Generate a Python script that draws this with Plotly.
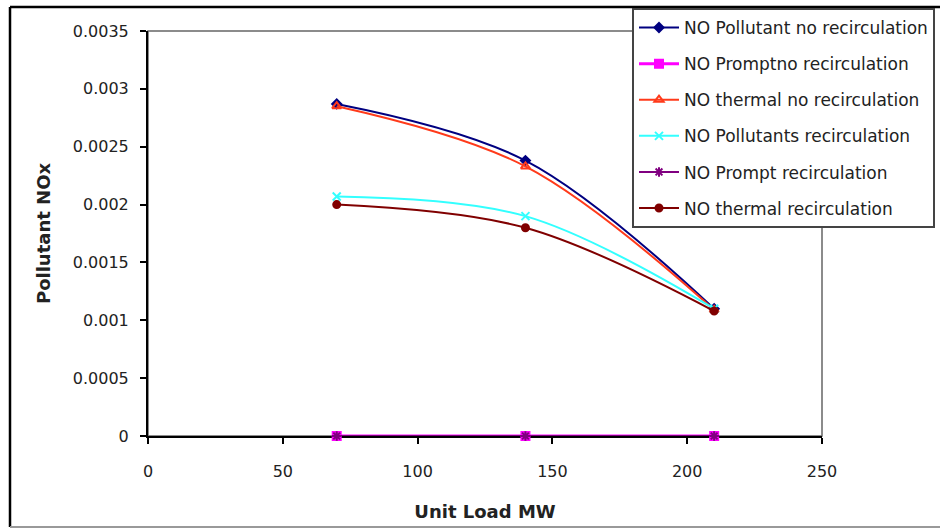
import plotly.graph_objects as go

unit_load = [70, 140, 210]

series_names = [
    "NO Pollutant no recirculation",
    "NO Promptno recirculation",
    "NO thermal no recirculation",
    "NO Pollutants recirculation",
    "NO Prompt recirculation",
    "NO thermal recirculation",
]
no_pollutant_norecirc = [0.00287, 0.00238, 0.00110]
no_prompt_norecirc = [0.0, 0.0, 0.0]
no_thermal_norecirc = [0.00285, 0.00233, 0.00109]
no_pollutants_recirc = [0.00207, 0.00190, 0.00110]
no_prompt_recirc = [0.0, 0.0, 0.0]
no_thermal_recirc = [0.00200, 0.00180, 0.00108]

y_tick_vals = [0, 0.0005, 0.001, 0.0015, 0.002, 0.0025, 0.003, 0.0035]
y_tick_text = ["0", "0.0005", "0.001", "0.0015", "0.002", "0.0025", "0.003", "0.0035"]
x_tick_vals = [0, 50, 100, 150, 200, 250]

values = [no_pollutant_norecirc, no_prompt_norecirc, no_thermal_norecirc,
          no_pollutants_recirc, no_prompt_recirc, no_thermal_recirc]
colors = ["#000080", "#FF00FF", "#FF3A1A", "#33FFFF", "#800080", "#800000"]
symbols = ["diamond", "square", "triangle-up-open", "x-thin-open", "asterisk-open", "circle"]
msizes = [7, 8, 8, 8, 8, 7]
lwidths = [2, 3, 2, 2, 2, 2]

fig = go.Figure()
for i, (name, vals) in enumerate(zip(series_names, values)):
    fig.add_trace(go.Scatter(
        x=unit_load, y=vals, name=name, mode="lines+markers",
        line=dict(color=colors[i], width=lwidths[i], shape="spline", smoothing=1.0),
        marker=dict(symbol=symbols[i], size=msizes[i], color=colors[i],
                    line=dict(color=colors[i], width=2)),
        legendgroup=f"g{i}", cliponaxis=False,
    ))

font_family = "DejaVu Sans"
text_color = "#222"
fig.update_layout(
    width=940, height=529,
    margin=dict(l=148, r=118, t=31, b=93, autoexpand=False),
    paper_bgcolor="white", plot_bgcolor="white",
    font=dict(family=font_family, size=16, color=text_color),
    showlegend=True,
    legend=dict(
        x=(632 - 148) / 674, y=(436 - 8) / 405, xanchor="left", yanchor="top",
        bgcolor="white", bordercolor="#444", borderwidth=2,
        font=dict(family=font_family, size=17, color=text_color),
        tracegroupgap=11, itemwidth=40,
    ),
    xaxis=dict(
        range=[0, 250], tickvals=x_tick_vals, showgrid=False, zeroline=False,
        showline=True, linecolor="black", linewidth=2, layer="below traces",
        ticks="outside", ticklen=6, tickcolor="black", tickwidth=2,
        ticklabelstandoff=14,
        tickfont=dict(family=font_family, size=16, color=text_color),
        automargin=False,
        title=dict(text="<b>Unit Load MW</b>", standoff=25,
                   font=dict(family=font_family, size=18, color=text_color)),
    ),
    yaxis=dict(
        range=[0, 0.0035], tickvals=y_tick_vals, ticktext=y_tick_text,
        showgrid=False, zeroline=False,
        showline=True, linecolor="black", linewidth=2, layer="below traces",
        ticks="outside", ticklen=6, tickcolor="black", tickwidth=2,
        ticklabelstandoff=8,
        tickfont=dict(family=font_family, size=16, color=text_color),
        automargin=False,
        title=dict(text="<b>Pollutant NOx</b>", standoff=18,
                   font=dict(family=font_family, size=18, color=text_color)),
    ),
)

# plot-area border (gray)
fig.add_shape(type="rect", xref="paper", yref="paper", x0=0, y0=0, x1=1, y1=1,
              line=dict(color="#666", width=1.5), layer="below")

# outer chart border
px = lambda v: (v - 148) / 674
py = lambda v: (436 - v) / 405
fig.add_shape(type="line", xref="paper", yref="paper", x0=px(10), x1=px(10),
              y0=py(7), y1=py(527), line=dict(color="black", width=2.5))
fig.add_shape(type="line", xref="paper", yref="paper", x0=px(10), x1=px(945),
              y0=py(7), y1=py(7), line=dict(color="black", width=2.5))
fig.add_shape(type="line", xref="paper", yref="paper", x0=px(10), x1=px(945),
              y0=py(527), y1=py(527), line=dict(color="#999", width=2))

fig.write_html("out.html", config={"displayModeBar": False},
               post_script="document.body.style.margin='0';")
